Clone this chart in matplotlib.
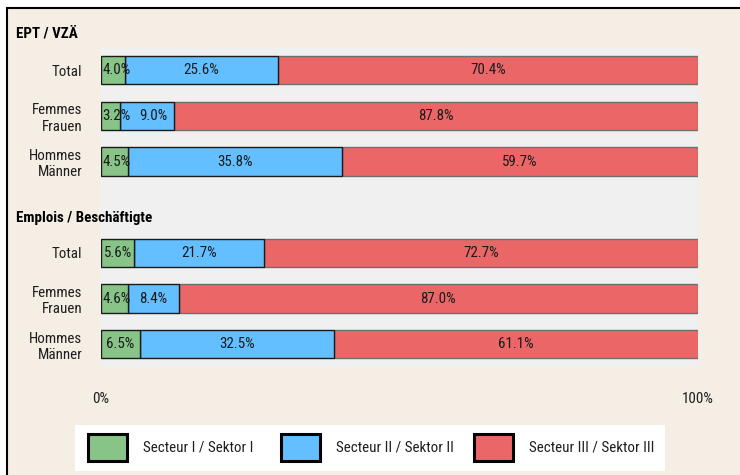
import matplotlib
matplotlib.use("Agg")
import matplotlib.pyplot as plt
from matplotlib.patches import Rectangle
from matplotlib import font_manager

available = {f.name for f in font_manager.fontManager.ttflist}
narrow = None
for cand in ["Liberation Sans Narrow", "Arial Narrow", "Roboto Condensed", "Open Sans Condensed",
             "Noto Sans Condensed"]:
    if cand in available:
        narrow = cand
        break
if narrow:
    plt.rcParams['font.family'] = [narrow, 'Liberation Sans', 'DejaVu Sans']
    FS = 10.8 if narrow == "Roboto Condensed" else 11.5
else:
    plt.rcParams['font.family'] = ['Liberation Sans', 'DejaVu Sans']
    FS = 10.2

# ---- data ----
groups = ["EPT / VZÄ", "Emplois / Beschäftigte"]
row_labels = ["Total", "Femmes\nFrauen", "Hommes\nMänner"]
sectors = ["Secteur I / Sektor I", "Secteur II / Sektor II", "Secteur III / Sektor III"]
ept_s1 = [4.0, 3.2, 4.5]
ept_s2 = [25.6, 9.0, 35.8]
ept_s3 = [70.4, 87.8, 59.7]
emp_s1 = [5.6, 4.6, 6.5]
emp_s2 = [21.7, 8.4, 32.5]
emp_s3 = [72.7, 87.0, 61.1]
xtick_labels = ["0%", "100%"]

colors = ["#88C488", "#63BFFF", "#EB6767"]
edges = ["#1a1a1a", "#1a1a1a", "#6e6e6e"]
bg = "#F5EEE4"

W, H = 740, 475
fig = plt.figure(figsize=(W / 100, H / 100), dpi=100)
fig.patch.set_facecolor("white")

def px(x, y):
    return x / W, 1 - y / H

# frame
fig.patches.append(Rectangle((7 / W, -0.1), 1.2, 1 - 8 / H + 0.1, transform=fig.transFigure,
                             facecolor=bg, edgecolor="black", linewidth=1.5, zorder=-10))

ax = fig.add_axes([101 / W, 1 - 367 / H, (698 - 101) / W, (367 - 47.5) / H])
ax.set_zorder(1)
ax.set_facecolor("#F0F0F0")
for s in ax.spines.values():
    s.set_visible(False)

positions = [0, 1, 2, 4, 5, 6]
s1 = ept_s1 + emp_s1
s2 = ept_s2 + emp_s2
s3 = ept_s3 + emp_s3
series = [s1, s2, s3]
h = 0.62

lefts = [0.0] * len(positions)
zs = [3.2, 3.1, 3.0]
for k, vals in enumerate(series):
    ax.barh(positions, vals, left=lefts, height=h, color=colors[k],
            edgecolor=edges[k], linewidth=1.0, zorder=zs[k])
    lefts = [a + b for a, b in zip(lefts, vals)]

ax.set_xlim(0, 100)
ax.set_ylim(6.5, -0.5)
ax.set_yticks(positions)
ax.set_yticklabels(row_labels * 2, fontsize=FS, color="#1e1e1e")
ax.set_xticks([0, 100])
ax.set_xticklabels(xtick_labels, fontsize=FS, color="#1e1e1e")
ax.tick_params(axis="y", length=0, pad=13.5)
ax.tick_params(axis="x", length=0, pad=18)

# value labels, shifted right if overlapping the previous label
fig.canvas.draw()
renderer = fig.canvas.get_renderer()
inv = ax.transData.inverted()
for i, p in enumerate(positions):
    start = 0.0
    prev_right = None
    for k, vals in enumerate(series):
        v = vals[i]
        t = ax.text(start + v / 2, p, f"{v:.1f}%", ha="center", va="center",
                    fontsize=FS, color="#1a1a1a", zorder=10)
        bb = t.get_window_extent(renderer)
        x0 = inv.transform((bb.x0, 0))[0]
        x1 = inv.transform((bb.x1, 0))[0]
        hw = (x1 - x0) / 2
        left = max(x0, start + 0.3)
        if prev_right is not None:
            left = max(left, prev_right + 1.3)
        cx = left + hw
        t.set_x(cx)
        prev_right = cx + hw
        start += v

# section headers
fig.text(*px(16, 34), groups[0], fontsize=FS, fontweight="bold", ha="left", va="center", zorder=5)
fig.text(*px(16, 218), groups[1], fontsize=FS, fontweight="bold", ha="left", va="center", zorder=5)

# legend
fig.patches.append(Rectangle(px(75, 471), (665 - 75) / W, (471 - 425) / H,
                             transform=fig.transFigure, facecolor="white", edgecolor="none", zorder=5))
patch_x = [88, 281, 474]
for k in range(3):
    fig.patches.append(Rectangle(px(patch_x[k], 461), 39 / W, 27 / H, transform=fig.transFigure,
                                 facecolor=colors[k], edgecolor="black", linewidth=2.2, zorder=6))
    fig.text(*px(patch_x[k] + 55, 448), sectors[k], fontsize=FS, ha="left", va="center",
             color="#1e1e1e", zorder=7)

fig.savefig("out.png", dpi=100, facecolor=fig.get_facecolor())
